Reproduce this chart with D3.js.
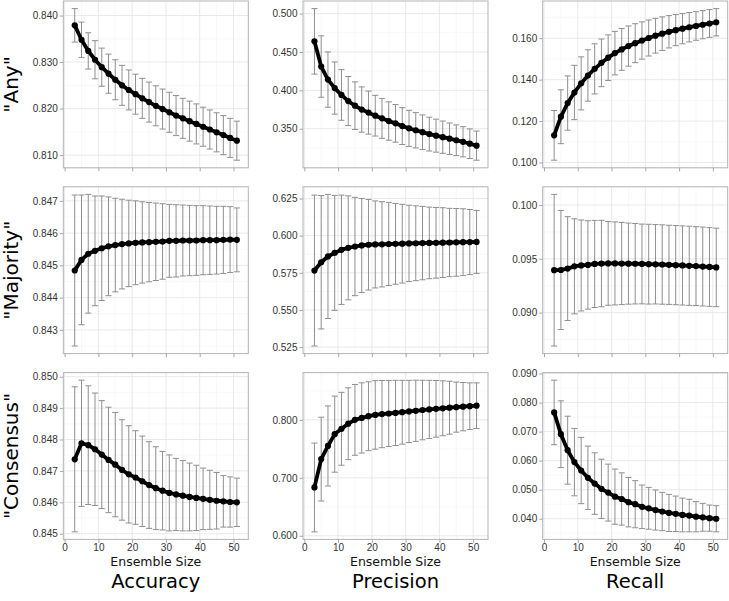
<!DOCTYPE html>
<html lang="en">
<head>
<meta charset="UTF-8">
<title>Ensemble size facets</title>
<style>
  body { margin: 0; background: #fff; }
  svg { display: block; font-family: "DejaVu Sans", Verdana, sans-serif; }
  .axis text { font-size: 10px; fill: #333; }
  .axis line { stroke: #a6a6a6; }
  .axis path { display: none; }
  .grid-major { stroke: #e6e6e6; stroke-width: 0.9; }
  .grid-minor { stroke: #f4f4f4; stroke-width: 0.6; }
  .errbar { stroke: #8f8f8f; stroke-width: 1; fill: none; }
  .mean-line { stroke: #000; stroke-width: 3.8; fill: none; stroke-linejoin: round; }
</style>
</head>
<body>
<svg id="chart" width="729" height="601"></svg>
<script src="https://d3js.org/d3.v7.min.js"></script>
<script>
// ensemble sizes (x)
const ensembleSizes = [3, 5, 7, 9, 11, 13, 15, 17, 19, 21, 23, 25, 27, 29, 31, 33, 35, 37, 39, 41, 43, 45, 47, 49, 51];

const rowNames = ['"Any"', '"Majority"', '"Consensus"'];
const colNames = ['Accuracy', 'Precision', 'Recall'];
const xTicks = [0, 10, 20, 30, 40, 50];

// "Any"
const anyAccuracyMean = [.8379, .8348, .8324, .8305, .8289, .8275, .8262, .8250, .8240, .8231, .8222, .8214, .8206, .8199, .8192, .8185, .8179, .8173, .8167, .8161, .8155, .8149, .8143, .8137, .8131];
const anyAccuracySd = [.0036, .0038, .0039, .0041, .0041, .0042, .0043, .0043, .0043, .0043, .0043, .0043, .0043, .0043, .0043, .0043, .0043, .0043, .0043, .0042, .0042, .0042, .0042, .0042, .0042];
const anyAccuracyTicks = [.810, .820, .830, .840];

const anyPrecisionMean = [.4638, .4310, .4140, .4030, .3940, .3860, .3800, .3750, .3710, .3670, .3635, .3600, .3570, .3535, .3505, .3480, .3455, .3430, .3410, .3390, .3370, .3350, .3330, .3305, .3280];
const anyPrecisionSd = [.0427, .0400, .0360, .0340, .0330, .0320, .0310, .0295, .0280, .0265, .0260, .0250, .0245, .0240, .0235, .0230, .0225, .0220, .0215, .0210, .0205, .0200, .0197, .0193, .0190];
const anyPrecisionTicks = [.350, .400, .450, .500];

const anyRecallMean = [.1131, .1221, .1287, .1338, .1382, .1420, .1452, .1481, .1506, .1528, .1546, .1562, .1576, .1589, .1601, .1612, .1622, .1631, .1639, .1646, .1653, .1659, .1665, .1671, .1677];
const anyRecallSd = [.0120, .0130, .0131, .0131, .0128, .0124, .0121, .0115, .0110, .0105, .0101, .0097, .0094, .0090, .0087, .0084, .0081, .0078, .0075, .0073, .0071, .0069, .0068, .0067, .0066];
const anyRecallTicks = [.100, .120, .140, .160];

// "Majority"
const majAccuracyMean = [.84484, .84517, .84536, .84545, .84553, .84559, .84563, .84566, .84568, .84570, .84571, .84572, .84573, .84574, .84576, .84576, .84577, .84577, .84577, .84578, .84578, .84578, .84579, .84580, .84579];
const majAccuracySd = [.00234, .00201, .00184, .00170, .00162, .00153, .00145, .00139, .00134, .00130, .00126, .00123, .00120, .00117, .00113, .00112, .00110, .00109, .00108, .00107, .00106, .00105, .00104, .00102, .00099];
const majAccuracyTicks = [.843, .844, .845, .846, .847];

const majPrecisionMean = [.5765, .5821, .5860, .5884, .5905, .5918, .5927, .5934, .5939, .5941, .5942, .5944, .5945, .5946, .5948, .5949, .5950, .5951, .5952, .5953, .5954, .5955, .5956, .5957, .5958];
const majPrecisionSd = [.0508, .0449, .0418, .0387, .0368, .0350, .0331, .0317, .0305, .0293, .0287, .0280, .0272, .0265, .0257, .0252, .0247, .0241, .0238, .0235, .0230, .0228, .0225, .0219, .0212];
const majPrecisionTicks = [.525, .550, .575, .600, .625];

const majRecallMean = [.09394, .09396, .09409, .09430, .09438, .09443, .09452, .09456, .09457, .09457, .09456, .09455, .09454, .09452, .09450, .09449, .09447, .09444, .09441, .09438, .09435, .09432, .09428, .09424, .09420];
const majRecallSd = [.00705, .00554, .00483, .00442, .00423, .00411, .00405, .00402, .00389, .00386, .00382, .00377, .00374, .00371, .00371, .00369, .00369, .00368, .00368, .00368, .00368, .00367, .00367, .00366, .00365];
const majRecallTicks = [.090, .095, .100];

// "Consensus"
const conAccuracyMean = [.84737, .84788, .84782, .84769, .84752, .84735, .84720, .84703, .84689, .84679, .84667, .84655, .84645, .84637, .84630, .84625, .84621, .84617, .84614, .84611, .84608, .84605, .84603, .84601, .84600];
const conAccuracySd = [.00231, .00201, .00189, .00179, .00172, .00168, .00166, .00160, .00155, .00149, .00144, .00138, .00132, .00125, .00121, .00115, .00112, .00108, .00104, .00098, .00094, .00090, .00082, .00080, .00077];
const conAccuracyTicks = [.845, .846, .847, .848, .849, .850];

const conPrecisionMean = [.6834, .7323, .7550, .7754, .7846, .7934, .8000, .8034, .8063, .8085, .8100, .8110, .8120, .8132, .8145, .8157, .8170, .8180, .8190, .8200, .8210, .8220, .8228, .8236, .8245];
const conPrecisionSd = [.0766, .0723, .0691, .0657, .0629, .0620, .0611, .0606, .0594, .0591, .0580, .0571, .0563, .0551, .0537, .0528, .0514, .0503, .0489, .0474, .0457, .0432, .0417, .0403, .0394];
const conPrecisionTicks = [.600, .700, .800];

const conRecallMean = [.0766, .0691, .0636, .0595, .0566, .0541, .0521, .0503, .0490, .0476, .0468, .0457, .0450, .0441, .0436, .0430, .0425, .0420, .0417, .0413, .0411, .0407, .0405, .0402, .0400];
const conRecallSd = [.0111, .0115, .0117, .0116, .0114, .0109, .0106, .0102, .0098, .0095, .0090, .0085, .0081, .0075, .0072, .0069, .0066, .0064, .0061, .0058, .0056, .0052, .0048, .0045, .0045];
const conRecallTicks = [.040, .050, .060, .070, .080, .090];

// panel grid: [row][col]
const panels = [
  [[anyAccuracyMean, anyAccuracySd, anyAccuracyTicks], [anyPrecisionMean, anyPrecisionSd, anyPrecisionTicks], [anyRecallMean, anyRecallSd, anyRecallTicks]],
  [[majAccuracyMean, majAccuracySd, majAccuracyTicks], [majPrecisionMean, majPrecisionSd, majPrecisionTicks], [majRecallMean, majRecallSd, majRecallTicks]],
  [[conAccuracyMean, conAccuracySd, conAccuracyTicks], [conPrecisionMean, conPrecisionSd, conPrecisionTicks], [conRecallMean, conRecallSd, conRecallTicks]]
];

// layout
const colX = [63.3, 303, 542.7];
const rowY = [1, 186.8, 372.6];
const panelW = 185, panelH = 166.8;
const capW = 1.8;   // errorbar width in x units
const tickLen = 3.5;

const svg = d3.select('#chart');

// x scale shared (ggplot-ish: errorbar extent + 5% expansion)
const xLo = d3.min(ensembleSizes) - capW / 2, xHi = d3.max(ensembleSizes) + capW / 2;
const xPad = (xHi - xLo) * 0.05;
const x = d3.scaleLinear().domain([xLo - xPad, xHi + xPad]).range([0, panelW]);
const xMinor = [5, 15, 25, 35, 45];

panels.forEach((row, r) => {
  row.forEach(([mean, sd, ticks], c) => {
    const data = ensembleSizes.map((s, i) => ({ s, m: mean[i], lo: mean[i] - sd[i], hi: mean[i] + sd[i] }));
    const lo = d3.min(data, d => d.lo), hi = d3.max(data, d => d.hi);
    const pad = (hi - lo) * 0.05;
    const y = d3.scaleLinear().domain([lo - pad, hi + pad]).range([panelH, 0]);

    const g = svg.append('g').attr('transform', `translate(${colX[c]},${rowY[r]})`);

    // minor grid
    const step = ticks[1] - ticks[0];
    const yMinor = [];
    for (let k = ticks[0] - step / 2; k <= hi + pad; k += step) {
      if (k >= lo - pad) yMinor.push(k);
    }
    g.selectAll('.ym').data(yMinor).enter().append('line')
      .attr('class', 'grid-minor')
      .attr('x1', 0).attr('x2', panelW)
      .attr('y1', d => y(d)).attr('y2', d => y(d));
    g.selectAll('.xm').data(xMinor).enter().append('line')
      .attr('class', 'grid-minor')
      .attr('y1', 0).attr('y2', panelH)
      .attr('x1', d => x(d)).attr('x2', d => x(d));

    // major grid
    g.selectAll('.yg').data(ticks).enter().append('line')
      .attr('class', 'grid-major')
      .attr('x1', 0).attr('x2', panelW)
      .attr('y1', d => y(d)).attr('y2', d => y(d));
    g.selectAll('.xg').data(xTicks).enter().append('line')
      .attr('class', 'grid-major')
      .attr('y1', 0).attr('y2', panelH)
      .attr('x1', d => x(d)).attr('x2', d => x(d));

    // error bars
    const eb = g.selectAll('.eb').data(data).enter().append('path')
      .attr('class', 'errbar')
      .attr('d', d => {
        const x0 = x(d.s - capW / 2), x1 = x(d.s + capW / 2), xc = x(d.s);
        return `M${x0},${y(d.hi)}H${x1}M${xc},${y(d.hi)}V${y(d.lo)}M${x0},${y(d.lo)}H${x1}`;
      });

    // mean line + points
    g.append('path').datum(data)
      .attr('class', 'mean-line')
      .attr('d', d3.line().x(d => x(d.s)).y(d => y(d.m)));
    g.selectAll('.pt').data(data).enter().append('circle')
      .attr('cx', d => x(d.s)).attr('cy', d => y(d.m))
      .attr('r', 3.1).attr('fill', '#000');

    // panel border
    g.append('rect')
      .attr('width', panelW).attr('height', panelH)
      .attr('fill', 'none').attr('stroke', '#b3b3b3').attr('stroke-width', 1);

    // axes
    g.append('g').attr('class', 'axis')
      .call(d3.axisLeft(y).tickValues(ticks).tickSize(tickLen).tickPadding(2).tickFormat(d3.format('.3f')));
    g.append('g').attr('class', 'axis')
      .attr('transform', `translate(0,${panelH})`)
      .call(d3.axisBottom(x).tickValues(xTicks).tickSize(tickLen).tickPadding(1.5)
        .tickFormat(r === 2 ? d3.format('d') : () => ''));
  });
});

// x axis titles under bottom row
colNames.forEach((name, c) => {
  const cx = colX[c] + panelW / 2;
  svg.append('text')
    .attr('x', cx).attr('y', 566)
    .attr('text-anchor', 'middle')
    .style('font-size', '12.5px').style('fill', '#111')
    .text('Ensemble Size');
  svg.append('text')
    .attr('x', cx).attr('y', 588)
    .attr('text-anchor', 'middle')
    .style('font-size', '19.5px').style('fill', '#000')
    .text(name);
});

// row labels
rowNames.forEach((name, r) => {
  const cy = rowY[r] + panelH / 2;
  svg.append('text')
    .attr('transform', `translate(18,${cy}) rotate(-90)`)
    .attr('text-anchor', 'middle')
    .style('font-size', '20px').style('fill', '#000')
    .text(name);
});
</script>
</body>
</html>
